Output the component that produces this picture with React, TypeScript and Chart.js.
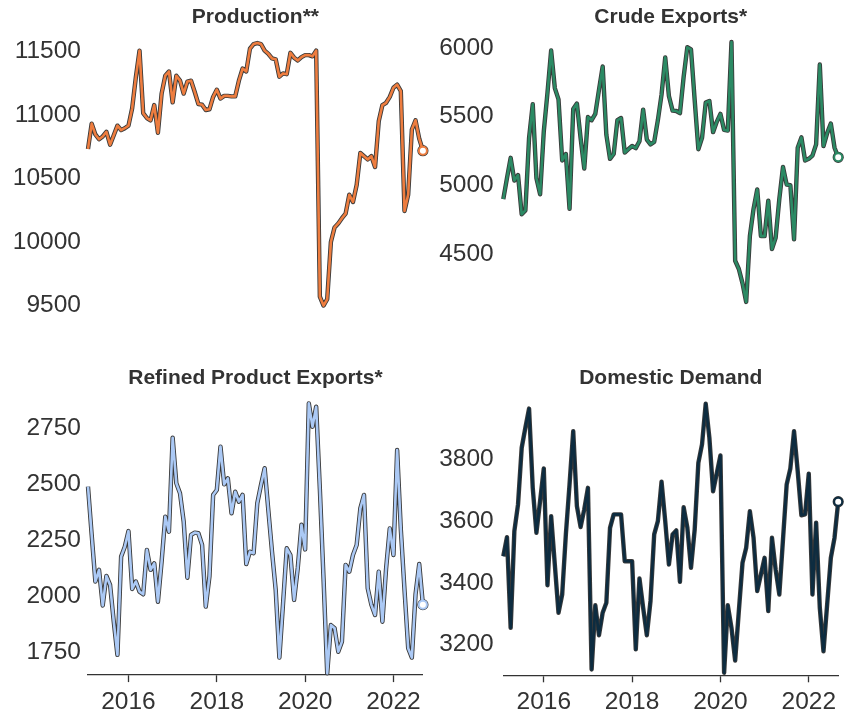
import React, { useEffect, useRef } from "react";
import { Chart, registerables } from "chart.js";

Chart.register(...registerables);

// ---------------- data ----------------
// Monthly observations, first = Feb 2015, last = Sep 2022
const START_YEAR = 2015;
const START_MONTH = 2;

const YEAR_TICKS = [2016, 2018, 2020, 2022];
const YEAR_TICK_LABELS = ["2016", "2018", "2020", "2022"];

const PRODUCTION = [
  10731, 10931, 10846, 10808, 10830, 10867, 10765, 10840, 10915, 10880,
  10895, 10915, 11052, 11295, 11505, 11013, 10975, 10957, 11077, 10859,
  11167, 11308, 11341, 11098, 11308, 11269, 11167, 11262, 11269, 11180,
  11085, 11080, 11038, 11044, 11141, 11198, 11128, 11149, 11149, 11145,
  11145, 11269, 11364, 11341, 11520, 11557, 11565, 11557, 11505, 11480,
  11444, 11437, 11300, 11326, 11320, 11488, 11450, 11428, 11454, 11470,
  11470, 11460, 11505, 9570, 9500, 9550, 10000, 10115, 10146, 10187,
  10223, 10372, 10315, 10449, 10700, 10675, 10649, 10675, 10590, 10949,
  11077, 11095, 11141, 11213, 11238, 11187, 10244, 10372, 10885, 10957,
  10813, 10718,
];

const CRUDE_EXPORTS = [
  4899, 5051, 5199, 5034, 5074, 4788, 4816, 5344, 5590, 5051,
  4934, 5391, 5672, 5981, 5707, 5625, 5180, 5227, 4828, 5554,
  5594, 5344, 5121, 5496, 5473, 5519, 5695, 5864, 5367, 5192,
  5227, 5473, 5489, 5238, 5262, 5285, 5270, 5320, 5550, 5332,
  5297, 5315, 5473, 5660, 5930, 5649, 5543, 5540, 5524, 5787,
  6004, 5988, 5620, 5262, 5344, 5601, 5613, 5386, 5461, 5519,
  5402, 5397, 6042, 4450, 4390, 4285, 4150, 4630, 4828, 4969,
  4629, 4629, 4887, 4535, 4617, 4899, 5133, 5004, 5000, 4606,
  5273, 5348, 5180, 5192, 5215, 5297, 5878, 5285, 5379, 5449,
  5273, 5203,
];

const REFINED_EXPORTS = [
  2490, 2275, 2067, 2119, 1960, 2092, 2052, 1888, 1740, 2178,
  2222, 2292, 2034, 2067, 2022, 2010, 2208, 2119, 2148, 1977,
  2155, 2356, 2289, 2708, 2505, 2460, 2334, 2084, 2275, 2285,
  2282, 2230, 1955, 2089, 2453, 2475, 2668, 2500, 2527, 2371,
  2467, 2423, 2453, 2145, 2200, 2193, 2416, 2497, 2572, 2385,
  2200, 2030, 1728, 1970, 2215, 2185, 1985, 2127, 2320, 2210,
  2861, 2757, 2846, 2480, 2080, 1658, 1873, 1859, 1754, 1799,
  2141, 2111, 2185, 2230, 2393, 2453, 2037, 1963, 1918, 2111,
  1888, 2125, 2304, 2185, 2653, 2300, 2030, 1770, 1728, 2010,
  2145, 1964,
];

const DOMESTIC_DEMAND = [
  3486, 3548, 3254, 3567, 3654, 3838, 3903, 3965, 3708, 3562,
  3665, 3771, 3392, 3616, 3459, 3303, 3362, 3557, 3719, 3892,
  3649, 3581, 3638, 3708, 3119, 3327, 3230, 3303, 3335, 3578,
  3622, 3622, 3622, 3470, 3470, 3470, 3184, 3414, 3319, 3230,
  3341, 3557, 3600, 3728, 3600, 3459, 3557, 3570, 3403, 3645,
  3580, 3449, 3572, 3789, 3849, 3981, 3870, 3697, 3755, 3813,
  3108, 3327, 3254, 3148, 3308, 3465, 3514, 3632, 3546, 3373,
  3427, 3481, 3308, 3546, 3443, 3362, 3541, 3719, 3771, 3892,
  3762, 3619, 3622, 3754, 3362, 3595, 3319, 3178, 3330, 3481,
  3546, 3663,
];

const PRODUCTION_TICKS = [9500, 10000, 10500, 11000, 11500];
const CRUDE_TICKS = [4500, 5000, 5500, 6000];
const REFINED_TICKS = [1750, 2000, 2250, 2500, 2750];
const DEMAND_TICKS = [3200, 3400, 3600, 3800];

// ---------------- styling / layout ----------------
const FONT_FAMILY = "'Liberation Sans', Arial, sans-serif";
const TEXT_COLOR = "#333333";
const AXIS_COLOR = "#333333";
const OUTLINE_COLOR = "#3a3a3a";
const TITLE_SIZE = 21;
const TICK_SIZE = 24.5;
const MIDDLE_OFFSET = 0.3465; // alphabetic baseline below "middle" (em)

type Box = { x: number; y: number; w: number; h: number };
type Area = { left: number; right: number; top: number; bottom: number };
type PanelSpec = {
  title: string;
  values: number[];
  yTicks: number[];
  yMin: number;
  yMax: number;
  color: string;
  box: Box;
  area: Area; // in canvas coordinates
  titleBaseline: number; // canvas coordinates
  labelGap: number;
  showX: boolean;
};

const janIndex = (year: number) => (year - START_YEAR) * 12 + (1 - START_MONTH);

const PANELS: PanelSpec[] = [
  {
    title: "Production**",
    values: PRODUCTION,
    yTicks: PRODUCTION_TICKS,
    yMin: 9400,
    yMax: 11650,
    color: "#ee7d3f",
    box: { x: 0, y: 0, w: 430, h: 340 },
    area: { left: 88, right: 422.9, top: 32.2, bottom: 324.7 },
    titleBaseline: 24,
    labelGap: 7,
    showX: false,
  },
  {
    title: "Crude Exports*",
    values: CRUDE_EXPORTS,
    yTicks: CRUDE_TICKS,
    yMin: 4050,
    yMax: 6100,
    color: "#2b8a64",
    box: { x: 430, y: 0, w: 417, h: 340 },
    area: { left: 73.3, right: 408.2, top: 34.07, bottom: 325.73 },
    titleBaseline: 24,
    labelGap: 9.6,
    showX: false,
  },
  {
    title: "Refined Product Exports*",
    values: REFINED_EXPORTS,
    yTicks: REFINED_TICKS,
    yMin: 1650,
    yMax: 2900,
    color: "#abc9f5",
    box: { x: 0, y: 340, w: 430, h: 376 },
    area: { left: 88, right: 422.9, top: 54.6, bottom: 335.1 },
    titleBaseline: 45,
    labelGap: 7,
    showX: true,
  },
  {
    title: "Domestic Demand",
    values: DOMESTIC_DEMAND,
    yTicks: DEMAND_TICKS,
    yMin: 3100,
    yMax: 4000,
    color: "#0d2c40",
    box: { x: 430, y: 340, w: 417, h: 376 },
    area: { left: 73.3, right: 408.2, top: 57.8, bottom: 335.3 },
    titleBaseline: 45,
    labelGap: 9.6,
    showX: true,
  },
];

function buildConfig(p: PanelSpec): any {
  const { box, area } = p;
  const titleLine = TITLE_SIZE * 1.2;
  const titleMid = p.titleBaseline - MIDDLE_OFFSET * TITLE_SIZE;
  const tPadTop = titleMid - titleLine / 2;
  const tPadBottom = area.top - tPadTop - titleLine;
  const bottomSpace = box.h - area.bottom;
  const last = p.values.length - 1;
  const pts = p.values.map((v, i) => ({ x: i, y: v }));
  const tickFont = { family: FONT_FAMILY, size: TICK_SIZE };

  return {
    type: "line",
    data: {
      datasets: [
        {
          data: pts,
          borderColor: p.color,
          borderWidth: 2.6,
          borderJoinStyle: "round",
          borderCapStyle: "butt",
          tension: 0,
          fill: false,
          order: 0,
          clip: false,
          pointRadius: (c: any) => (c.dataIndex === last ? 4 : 0),
          pointHoverRadius: 0,
          pointBackgroundColor: "#ffffff",
          pointBorderColor: p.color,
          pointBorderWidth: 2,
        },
        {
          data: pts,
          borderColor: OUTLINE_COLOR,
          borderWidth: 4.4,
          borderJoinStyle: "round",
          borderCapStyle: "butt",
          tension: 0,
          fill: false,
          order: 1,
          clip: false,
          pointRadius: (c: any) => (c.dataIndex === last ? 5 : 0),
          pointHoverRadius: 0,
          pointBackgroundColor: OUTLINE_COLOR,
          pointBorderColor: OUTLINE_COLOR,
          pointBorderWidth: 1.2,
        },
      ],
    },
    options: {
      animation: false,
      responsive: false,
      maintainAspectRatio: false,
      events: [],
      layout: {
        padding: {
          left: 0,
          right: box.w - area.right,
          top: 0,
          bottom: p.showX ? 0 : bottomSpace,
        },
      },
      plugins: {
        legend: { display: false },
        tooltip: { enabled: false },
        title: {
          display: true,
          text: p.title,
          color: TEXT_COLOR,
          fullSize: false,
          font: { family: FONT_FAMILY, size: TITLE_SIZE, weight: "bold", lineHeight: 1.2 },
          padding: { top: tPadTop, bottom: tPadBottom },
        },
      },
      scales: {
        x: {
          type: "linear",
          min: 0,
          max: last,
          display: p.showX,
          afterFit: (s: any) => {
            if (p.showX) s.height = bottomSpace;
          },
          afterBuildTicks: (s: any) => {
            s.ticks = YEAR_TICKS.map((y) => ({ value: janIndex(y) }));
          },
          grid: {
            display: true,
            drawOnChartArea: false,
            drawTicks: true,
            tickLength: 7,
            tickColor: AXIS_COLOR,
            tickWidth: 1.3,
          },
          border: { display: true, color: AXIS_COLOR, width: 1.3 },
          ticks: {
            autoSkip: false,
            maxRotation: 0,
            padding: 5.2,
            color: TEXT_COLOR,
            font: tickFont,
            callback: (_v: any, i: number) => YEAR_TICK_LABELS[i],
          },
        },
        y: {
          type: "linear",
          min: p.yMin,
          max: p.yMax,
          afterFit: (s: any) => {
            s.width = area.left;
          },
          afterBuildTicks: (s: any) => {
            s.ticks = p.yTicks.map((v) => ({ value: v }));
          },
          grid: { display: false, drawTicks: false, tickLength: 0 },
          border: { display: false },
          ticks: {
            autoSkip: false,
            padding: p.labelGap,
            color: TEXT_COLOR,
            font: tickFont,
            callback: (v: any) => String(v),
          },
        },
      },
    },
  };
}

function Panel({ spec }: { spec: PanelSpec }) {
  const ref = useRef<HTMLCanvasElement | null>(null);
  useEffect(() => {
    if (!ref.current) return;
    const chart = new Chart(ref.current, buildConfig(spec));
    return () => chart.destroy();
  }, [spec]);
  const { box } = spec;
  return (
    <canvas
      ref={ref}
      width={box.w}
      height={box.h}
      style={{
        position: "absolute",
        left: box.x,
        top: box.y,
        width: box.w,
        height: box.h,
      }}
    />
  );
}

export default function App() {
  return (
    <div
      style={{
        position: "absolute",
        left: 0,
        top: 0,
        width: 847,
        height: 716,
        background: "#ffffff",
      }}
    >
      {PANELS.map((p) => (
        <Panel key={p.title} spec={p} />
      ))}
    </div>
  );
}
